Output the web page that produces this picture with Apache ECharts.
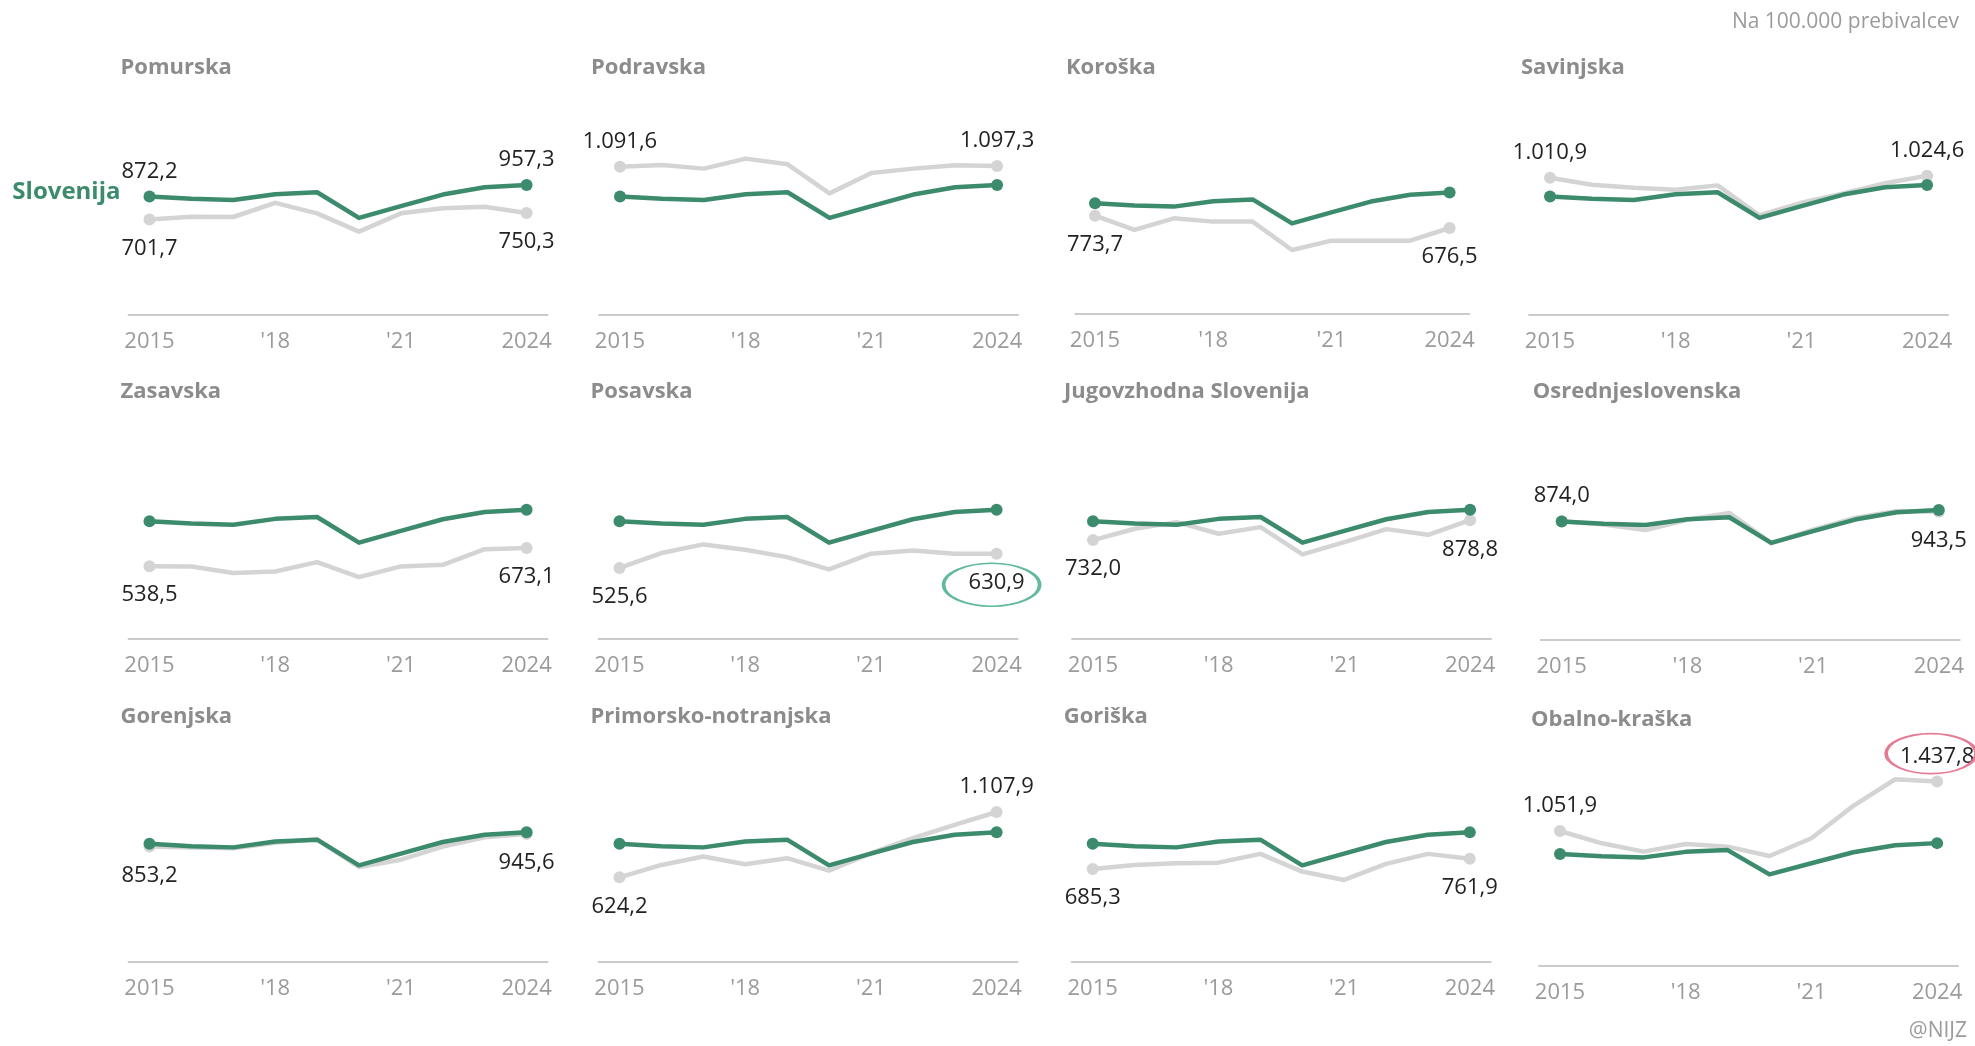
<!DOCTYPE html>
<html>
<head>
<meta charset="utf-8">
<script src="https://cdn.jsdelivr.net/npm/echarts@6/dist/echarts.min.js"></script>
<style>
  html, body { margin: 0; padding: 0; background: #fff; }
  #chart { width: 1975px; height: 1046px; }
</style>
</head>
<body>
<div id="chart"></div>
<script>
// years and axis tick labels
const years = ['2015', '2016', '2017', '2018', '2019', '2020', '2021', '2022', '2023', '2024'];
const tickLabels = ['2015', '', '', "'18", '', '', "'21", '', '', '2024'];

// Slovenija (green, same in every panel)
const slovenija = [872.2, 855, 846, 889, 903, 713, 800, 886, 940, 957.3];

// regions (grey)
const pomurska = [701.7, 722, 720, 825, 747, 612, 747, 784, 796, 750.3];
const podravska = [1091.6, 1105, 1078, 1152, 1110, 895, 1046, 1078, 1103, 1097.3];
const koroska = [773.7, 661, 753, 727, 727, 502, 576, 576, 576, 676.5];
const savinjska = [1010.9, 959, 937, 922, 954, 733, 825, 895, 970, 1024.6];
const zasavska = [538.5, 537, 488, 500, 569, 458, 537, 549, 665, 673.1];
const posavska = [525.6, 636, 700, 660, 606, 515, 631, 655, 631, 630.9];
const jugovzhodna = [732.0, 816, 865, 779, 828, 626, 717, 813, 771, 878.8];
const osrednjeslovenska = [874.0, 850, 808, 885, 935, 712, 812, 898, 950, 943.5];
const gorenjska = [853.2, 845, 840, 880, 906, 700, 755, 852, 920, 945.6];
const primorsko = [624.2, 716, 778, 721, 766, 674, 803, 914, 1013, 1107.9];
const goriska = [685.3, 716, 729, 733, 798, 667, 605, 724, 798, 761.9];
const obalno = [1051.9, 956, 891, 951, 930, 857, 995, 1248, 1456, 1437.8];

const GREEN = '#3d8b6d';
const GREY = '#d4d4d4';
const FONT = '"Open Sans", sans-serif';
const H = 210;

// layout: x of first point, step per year, y of axis line, units per pixel, label sides
const panels = [
  { name: 'Pomurska', data: pomurska, x0: 149.5, step: 41.9, axisY: 314.3, upp: 7.4, lab: ['bottom', 'bottom'], ty: 71 },
  { name: 'Podravska', data: podravska, x0: 620, step: 41.9, axisY: 314.3, upp: 7.4, lab: ['top', 'top'], ty: 71 },
  { name: 'Koroška', data: koroska, x0: 1095, step: 39.4, axisY: 313.3, upp: 7.93, lab: ['bottom', 'bottom'], ty: 71 },
  { name: 'Savinjska', data: savinjska, x0: 1550, step: 41.9, axisY: 314.3, upp: 7.4, lab: ['top', 'top'], ty: 71 },
  { name: 'Zasavska', data: zasavska, x0: 149.5, step: 41.9, axisY: 639, upp: 7.4, lab: ['bottom', 'bottom'], ty: 395 },
  { name: 'Posavska', data: posavska, x0: 619.5, step: 41.9, axisY: 639, upp: 7.4, lab: ['bottom', 'bottom'], ty: 395 },
  { name: 'Jugovzhodna Slovenija', data: jugovzhodna, x0: 1093, step: 41.9, axisY: 639, upp: 7.4, lab: ['bottom', 'bottom'], ty: 395 },
  { name: 'Osrednjeslovenska', data: osrednjeslovenska, x0: 1561.7, step: 41.9, axisY: 639.3, upp: 7.4, lab: ['top', 'bottom'], ty: 395 },
  { name: 'Gorenjska', data: gorenjska, x0: 149.5, step: 41.9, axisY: 961.7, upp: 7.4, lab: ['bottom', 'bottom'], ty: 720 },
  { name: 'Primorsko-notranjska', data: primorsko, x0: 619.5, step: 41.9, axisY: 961.7, upp: 7.4, lab: ['bottom', 'top'], ty: 720 },
  { name: 'Goriška', data: goriska, x0: 1092.7, step: 41.9, axisY: 961.7, upp: 7.4, lab: ['bottom', 'bottom'], ty: 720 },
  { name: 'Obalno-kraška', data: obalno, x0: 1560, step: 41.9, axisY: 965.7, upp: 7.81, lab: ['top', 'top'], ty: 723 }
];

function fmt(v) {
  const parts = v.toFixed(1).split('.');
  return parts[0].replace(/\B(?=(\d{3})+(?!\d))/g, '.') + ',' + parts[1];
}

function withEndLabels(arr, sides) {
  return arr.map((v, k) => {
    if (k !== 0 && k !== arr.length - 1) return v;
    const pos = k === 0 ? sides[0] : sides[1];
    return {
      value: v,
      label: { show: true, position: pos, distance: pos === 'top' ? 8 : 12, formatter: fmt(v) }
    };
  });
}

const ellipse = 'path://M0,50 A50,50 0 1 1 100,50 A50,50 0 1 1 0,50 Z';
const endSize = (v, p) => (p.dataIndex === 0 || p.dataIndex === 9) ? 12 : 0;

const grid = [], xAxis = [], yAxis = [], series = [], graphic = [];

panels.forEach((p, i) => {
  grid.push({ left: p.x0 - p.step / 2, width: p.step * 10, top: p.axisY - H, height: H });
  xAxis.push({
    gridIndex: i, type: 'category', data: years, boundaryGap: true,
    axisLine: { lineStyle: { color: '#cbcbcb', width: 2 } },
    axisTick: { show: false },
    axisLabel: { interval: 0, formatter: (v, idx) => tickLabels[idx], color: '#9b9b9b', fontSize: 22, margin: 16, fontFamily: FONT },
    splitLine: { show: false }
  });
  yAxis.push({ gridIndex: i, type: 'value', min: 0, max: p.upp * H, show: false });

  const greySeries = {
    type: 'line', xAxisIndex: i, yAxisIndex: i, name: p.name,
    data: withEndLabels(p.data, p.lab),
    symbol: 'circle', symbolSize: endSize, showAllSymbol: true,
    lineStyle: { color: GREY, width: 4.5, join: 'round' },
    itemStyle: { color: GREY },
    label: { show: false, color: '#222', fontSize: 22, fontFamily: FONT },
    emphasis: { disabled: true }, silent: true, z: 2
  };
  if (p.name === 'Posavska' || p.name === 'Obalno-kraška') {
    const isPos = p.name === 'Posavska';
    greySeries.markPoint = {
      symbol: ellipse, symbolKeepAspect: false,
      symbolSize: isPos ? [96, 43] : [90, 40],
      symbolOffset: isPos ? [-5, 31] : [-6, -28],
      itemStyle: { color: 'rgba(0,0,0,0)', borderColor: isPos ? '#62b99c' : '#e47b95', borderWidth: 2.5 },
      label: { show: false },
      data: [{ coord: [years[9], p.data[9]] }]
    };
  }
  series.push(greySeries);

  const greenSeries = {
    type: 'line', xAxisIndex: i, yAxisIndex: i, name: 'Slovenija',
    data: i === 0 ? withEndLabels(slovenija, ['top', 'top']) : slovenija.slice(),
    symbol: 'circle', symbolSize: endSize, showAllSymbol: true,
    lineStyle: { color: GREEN, width: 4.5, join: 'round' },
    itemStyle: { color: GREEN },
    label: { show: false, color: '#222', fontSize: 22, fontFamily: FONT },
    emphasis: { disabled: true }, silent: true, z: 3
  };
  if (i === 0) {
    greenSeries.markPoint = {
      symbol: 'circle', symbolSize: 0,
      label: { show: true, position: 'left', distance: 29, offset: [0, -4], formatter: 'Slovenija', color: GREEN, fontSize: 24, fontWeight: 'bold', fontFamily: FONT },
      data: [{ coord: [years[0], slovenija[0]] }]
    };
  }
  series.push(greenSeries);

  graphic.push({
    type: 'text', left: p.x0 - 29, top: p.ty - 14,
    style: { text: p.name, fill: '#8c8c8c', font: 'bold 22px ' + FONT }
  });
});

graphic.push({
  type: 'text', right: 16, top: 12,
  style: { text: 'Na 100.000 prebivalcev', fill: '#9b9b9b', font: '21px ' + FONT }
});
graphic.push({
  type: 'text', right: 8, top: 1021,
  style: { text: '@NIJZ', fill: '#9b9b9b', font: '21px ' + FONT }
});

const chart = echarts.init(document.getElementById('chart'));
chart.setOption({
  backgroundColor: '#fff',
  animation: false,
  textStyle: { fontFamily: FONT },
  grid, xAxis, yAxis, series, graphic
});
</script>
</body>
</html>
